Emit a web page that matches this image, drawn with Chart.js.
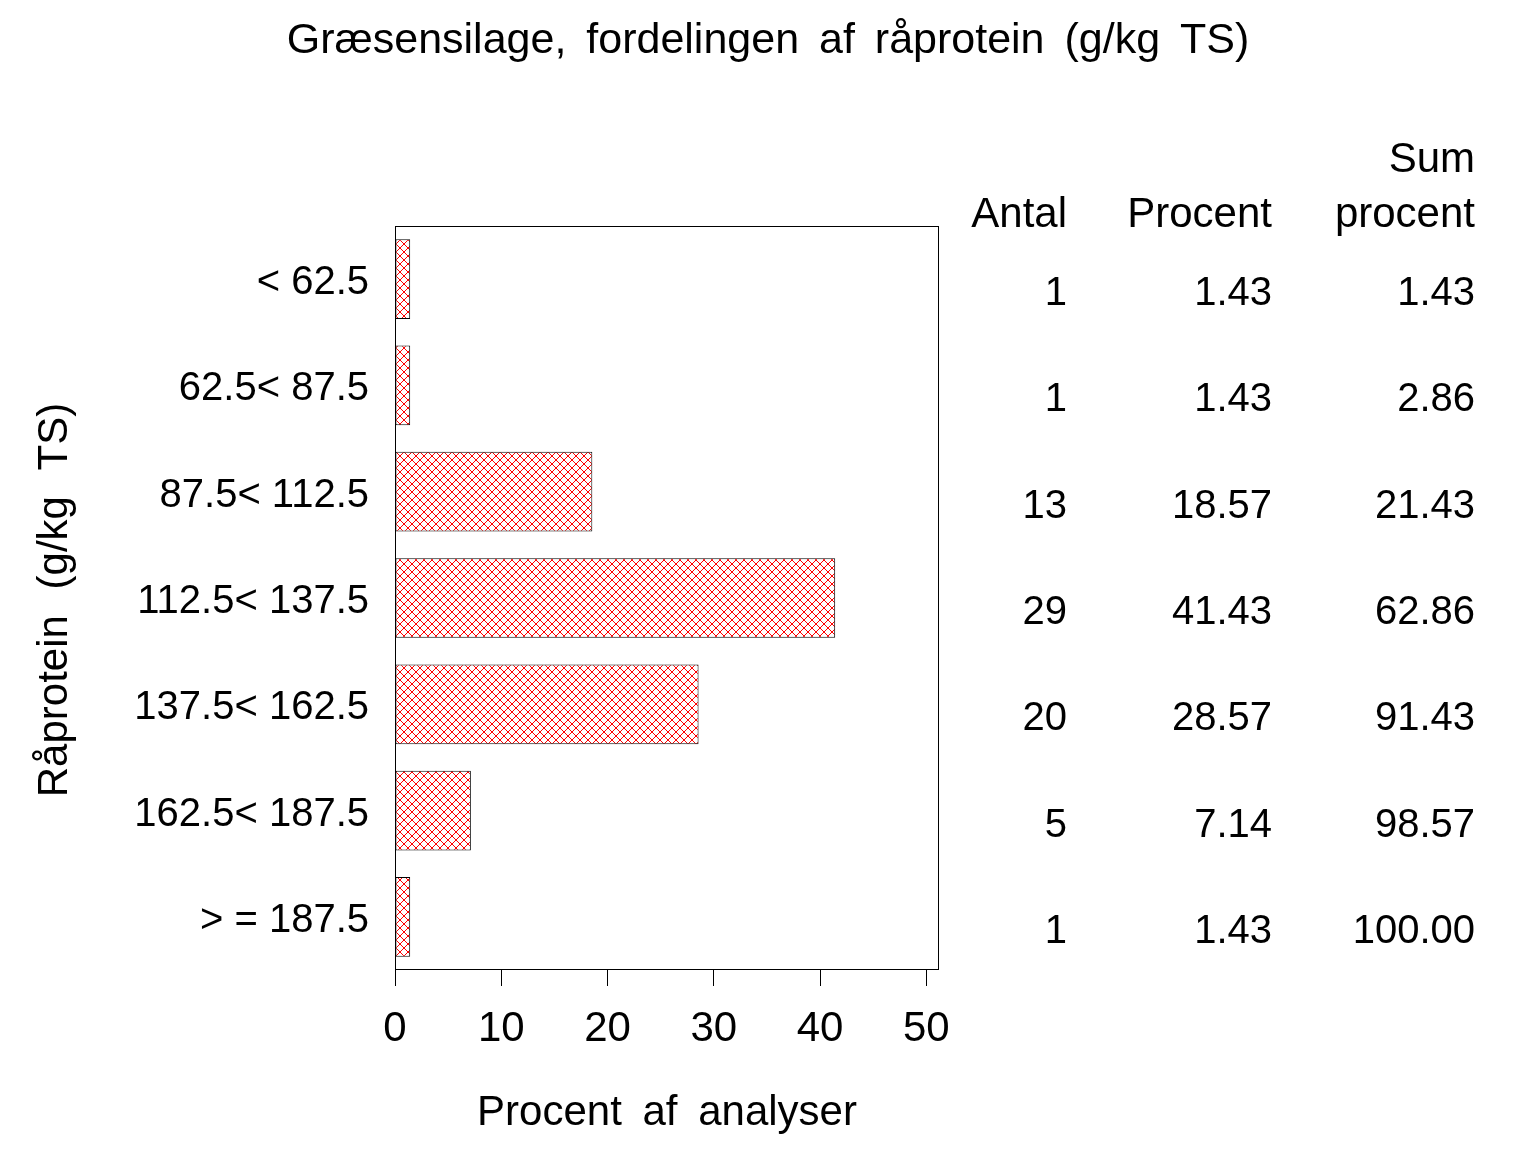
<!DOCTYPE html>
<html>
<head>
<meta charset="utf-8">
<script src="https://cdn.jsdelivr.net/npm/chart.js@4"></script>
<style>
  body { margin: 0; background: #fff; }
  #wrap { width: 1536px; height: 1152px; }
</style>
</head>
<body>
<div id="wrap"><canvas id="chartProtein" width="1536" height="1152"></canvas></div>
<script>
const kategorier = ['< 62.5', '62.5< 87.5', '87.5< 112.5', '112.5< 137.5', '137.5< 162.5', '162.5< 187.5', '> = 187.5'];
const antal = [1, 1, 13, 29, 20, 5, 1];
const procent = [1.43, 1.43, 18.57, 41.43, 28.57, 7.14, 1.43];
const sumProcent = [1.43, 2.86, 21.43, 62.86, 91.43, 98.57, 100.00];
const xTicks = [0, 10, 20, 30, 40, 50];

const titel = 'Græsensilage, fordelingen af råprotein (g/kg TS)';
const xTitel = 'Procent af analyser';
const yTitel = 'Råprotein (g/kg TS)';

const FONT = '"Liberation Sans", Arial, sans-serif';

// red cross hatch, 1px staircase diagonals
function hatch() {
    const c = document.createElement('canvas');
    c.width = 8; c.height = 8;
    const g = c.getContext('2d');
    g.fillStyle = '#fff';
    g.fillRect(0, 0, 8, 8);
    g.fillStyle = '#ff0000';
    for (let i = 0; i < 8; i++) {
        g.fillRect(i, i, 1, 1);
        g.fillRect(7 - i, i, 1, 1);
    }
    return g.createPattern(c, 'repeat');
}

const tekster = {
    id: 'tekster',
    afterDatasetsDraw(chart) {
        const ctx = chart.ctx;
        const a = chart.chartArea;
        const y = chart.scales.y;
        ctx.save();
        // frame
        ctx.strokeStyle = '#000';
        ctx.lineWidth = 1;
        ctx.strokeRect(Math.round(a.left) + 0.5, Math.round(a.top) + 0.5,
            Math.round(a.right - a.left) - 1, Math.round(a.bottom - a.top) - 1);

        ctx.fillStyle = '#000';
        ctx.textBaseline = 'alphabetic';

        // title
        ctx.font = '43px ' + FONT;
        ctx.textAlign = 'center';
        ctx.wordSpacing = '8px';
        ctx.fillText(titel, 768, 53);

        // x axis title
        ctx.font = '42px ' + FONT;
        ctx.wordSpacing = '9px';
        ctx.fillText(xTitel, (a.left + a.right) / 2, 1125);

        // y axis title
        ctx.save();
        ctx.translate(67, (a.top + a.bottom) / 2 + 2);
        ctx.rotate(-Math.PI / 2);
        ctx.wordSpacing = '14px';
        ctx.fillText(yTitel, 0, 0);
        ctx.restore();

        // table
        ctx.wordSpacing = '0px';
        ctx.textAlign = 'right';
        ctx.font = '42px ' + FONT;
        const kol = [1067, 1272, 1475];
        ctx.fillText('Antal', kol[0], 227);
        ctx.fillText('Procent', kol[1], 227);
        ctx.fillText('Sum', kol[2], 172);
        ctx.fillText('procent', kol[2], 227);
        ctx.font = '40px ' + FONT;
        kategorier.forEach((k, i) => {
            const yy = y.getPixelForValue(i) + 26;
            ctx.fillText(String(antal[i]), kol[0], yy);
            ctx.fillText(procent[i].toFixed(2), kol[1], yy);
            ctx.fillText(sumProcent[i].toFixed(2), kol[2], yy);
        });
        ctx.restore();
    }
};

const ctx = document.getElementById('chartProtein').getContext('2d');
const myChart = new Chart(ctx, {
    type: 'bar',
    data: {
        labels: kategorier,
        datasets: [{
            label: 'Procent',
            data: procent,
            backgroundColor: hatch(),
            borderColor: '#000',
            borderWidth: 1,
            borderSkipped: false,
            barPercentage: 0.75,
            categoryPercentage: 1
        }]
    },
    options: {
        indexAxis: 'y',
        responsive: false,
        devicePixelRatio: 1,
        animation: false,
        layout: { padding: { top: 226, right: 597, left: 0, bottom: 0 } },
        plugins: {
            legend: { display: false },
            tooltip: { enabled: false },
            title: { display: false }
        },
        scales: {
            x: {
                min: 0,
                max: 51.2,
                afterBuildTicks: s => { s.ticks = xTicks.map(v => ({ value: v })); },
                afterFit: s => { s.height = 182; },
                ticks: {
                    color: '#000',
                    font: { family: FONT, size: 42 },
                    padding: 18,
                    maxRotation: 0,
                    autoSkip: false
                },
                grid: {
                    drawOnChartArea: false,
                    drawTicks: true,
                    tickLength: 16,
                    color: '#000',
                    lineWidth: 1
                },
                border: { display: false }
            },
            y: {
                afterFit: s => { s.width = 395; },
                ticks: {
                    color: '#000',
                    font: { family: FONT, size: 40 },
                    padding: 18,
                    labelOffset: 4,
                    autoSkip: false
                },
                grid: { display: false },
                border: { display: false }
            }
        }
    },
    plugins: [tekster]
});
</script>
</body>
</html>
